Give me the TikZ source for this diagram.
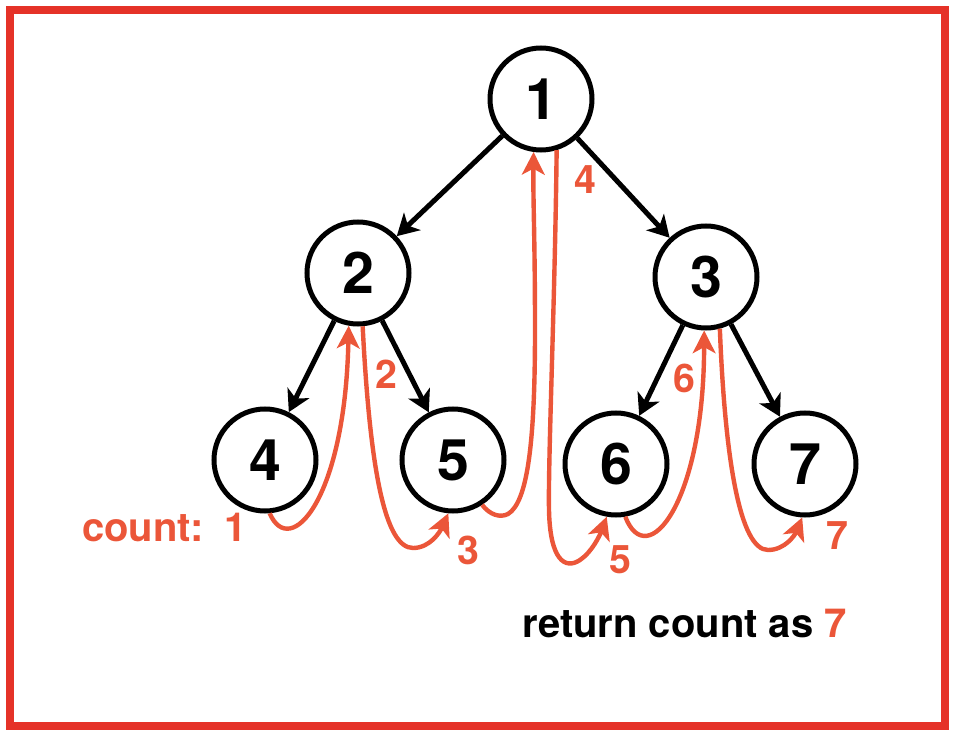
\documentclass[tikz,border=0pt]{standalone}
\usepackage{fontspec}
\setmainfont{TeX Gyre Heros}
\usetikzlibrary{arrows.meta}
\definecolor{frame}{RGB}{229,50,40}
\definecolor{trace}{RGB}{235,86,57}
\tikzset{
  tnode/.style={circle, draw=black, line width=3.75pt, minimum size=76.5pt, inner sep=0pt, fill=white,
    font=\fontsize{43}{43}\selectfont\bfseries},
  edge/.style={draw=black, line width=3.75pt, -{Stealth[length=16pt,width=18pt,inset=4.5pt]}},
  walk/.style={draw=trace, line width=3.3pt, -{Stealth[length=17pt,width=17pt,inset=4.5pt]}},
  lab/.style={text=trace, inner sep=0pt, font=\fontsize{29.5}{29.5}\selectfont\bfseries},
  note/.style={inner sep=0pt, anchor=base west, font=\fontsize{30}{30}\selectfont\bfseries}
}
\begin{document}
\begin{tikzpicture}[x=0.75pt,y=-0.75pt]
\useasboundingbox (0,0) rectangle (958,738);
\draw[frame, line width=6pt] (10,10) rectangle (944.5,726);

\node[tnode] (n1) at (541,99) {1};
\node[tnode] (n2) at (358,273) {2};
\node[tnode] (n3) at (706,277) {3};
\node[tnode] (n4) at (265,460) {4};
\node[tnode] (n5) at (453,460) {5};
\node[tnode] (n6) at (616,464) {6};
\node[tnode] (n7) at (805,464) {7};

\draw[edge] (n1) -- (n2);
\draw[edge] (n1) -- (n3);
\draw[edge] (n2) -- (n4);
\draw[edge] (n2) -- (n5);
\draw[edge] (n3) -- (n6);
\draw[edge] (n3) -- (n7);

% red traversal
\draw[walk] (n4.-85) .. controls (290,560) and (345,500) .. (n2.-100);
\draw[walk] (n2.-85) .. controls (370,470) and (385,548) .. (413,548)
                     .. controls (430,548) and (440,532) .. (n5.-95);
\draw[walk] (n5.-57) .. controls (490,515) and (500,518) .. (508,514)
                     .. controls (528,502) and (535,440) .. (535,330)
                     .. controls (535,240) and (533,200) .. (n1.-98);
\draw[walk] (n1.-73) .. controls (555,300) and (548,460) .. (549,510)
                     .. controls (550,560) and (565,570) .. (580,560)
                     .. controls (592,552) and (600,535) .. (n6.-100);
\draw[walk] (n6.-80) .. controls (647,573) and (704,503) .. (n3.-92);
\draw[walk] (n3.-75) .. controls (725,460) and (740,550) .. (768,550)
                     .. controls (785,550) and (795,535) .. (n7.-93);

\node[lab] (l4) at (585,180) {4};
\node[lab] (l2) at (386,374) {2};
\node[lab] (l3) at (468,550) {3};
\node[lab] (l5) at (620,560) {5};
\node[lab] (l6) at (684,378) {6};
\node[lab] (l7) at (837,536) {7};

\node[note, text=trace] (cnt) at (82,541) {count:\, 1};
\node[note] (ret) at (522,637) {return count as \textcolor{trace}{7}};
\end{tikzpicture}
\end{document}
